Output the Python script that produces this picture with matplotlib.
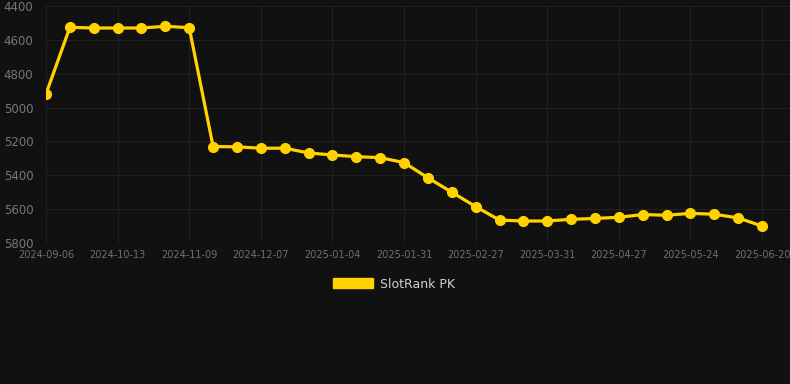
import numpy as np
from matplotlib import pyplot as plt
from matplotlib.patches import Patch

# weekly rank values (lower is better, axis is inverted)
ranks = [4920, 4526, 4530, 4530, 4530, 4520, 4528,
         5230, 5232, 5240, 5240, 5268, 5280, 5290, 5296,
         5325, 5415, 5500, 5585, 5665, 5670, 5670, 5660,
         5655, 5648, 5632, 5636, 5625, 5630, 5652, 5700]
tick_labels = ['2024-09-06', '2024-10-13', '2024-11-09', '2024-12-07',
               '2025-01-04', '2025-01-31', '2025-02-27', '2025-03-31',
               '2025-04-27', '2025-05-24', '2025-06-20']
series_name = 'SlotRank PK'

bg = '#111111'
gold = '#FFD200'
x = np.arange(len(ranks))

fig = plt.figure(figsize=(7.9, 3.84), dpi=100, facecolor=bg)
ax = fig.add_axes([46 / 790, 1 - 243 / 384, 744 / 790, 237 / 384])
ax.set_facecolor(bg)

ax.plot(x, ranks, color=gold, linewidth=2.3, marker='o', markersize=7,
        markerfacecolor=gold, markeredgecolor=gold, zorder=3)

ax.set_ylim(5800, 4400)
ax.set_yticks(np.arange(4400, 5801, 200))
ax.set_xlim(0, 744 / 23.87)
ax.set_xticks(x[::3])
ax.set_xticklabels(tick_labels)

ax.grid(True, color='#202020', linewidth=0.8)
for s in ax.spines.values():
    s.set_visible(False)
ax.tick_params(axis='both', length=0)
ax.tick_params(axis='y', colors='#777777', labelsize=8.5, pad=9)
ax.tick_params(axis='x', colors='#6f6f6f', labelsize=7, pad=5)

handle = Patch(facecolor=gold, edgecolor=gold)
leg = fig.legend([handle], [series_name], loc='center',
                 bbox_to_anchor=(394 / 790, 1 - 284 / 384),
                 frameon=False, fontsize=9, handlelength=3.2,
                 handleheight=0.9, handletextpad=0.5)
for t in leg.get_texts():
    t.set_color('#d0d0d0')

fig.savefig('out.png', dpi=100, facecolor=bg)
